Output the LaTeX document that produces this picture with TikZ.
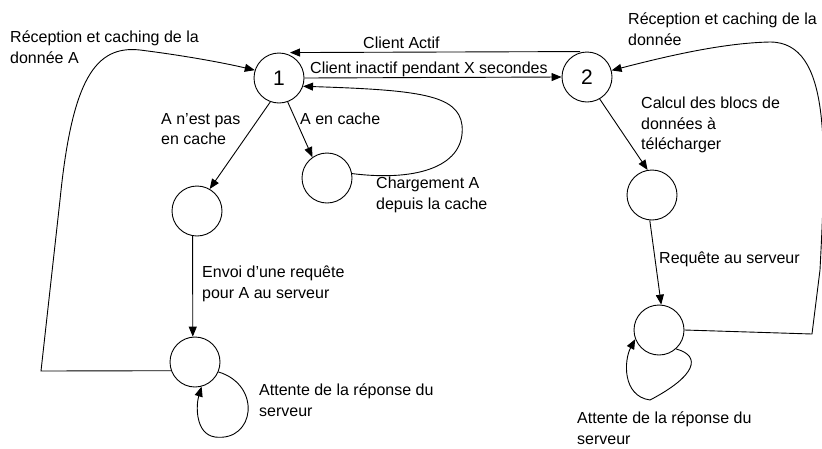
\documentclass[tikz,border=0pt]{standalone}
\usepackage{fontspec}
\setmainfont{Liberation Sans}
\usetikzlibrary{arrows.meta}
\begin{document}
\begin{tikzpicture}[x=1pt,y=-1pt,
  state/.style={circle,draw,line width=0.9pt,minimum size=50pt,inner sep=0pt,font=\fontsize{21}{25}\selectfont},
  arr/.style={draw,line width=0.9pt,-{Triangle[length=10pt,width=8pt]}},
  lbl/.style={anchor=north west,inner sep=0pt,align=left,font=\fontsize{16}{20.5}\selectfont}]
\useasboundingbox (0,0) rectangle (822,448);
% states
\node[state] (n1) at (279,78) {1};
\node[state] (n2) at (587,77) {2};
\node[state] (nc) at (197,211) {};
\node[state] (cl) at (327,178) {};
\node[state] (wl) at (195,362) {};
\node[state] (rm) at (652,195) {};
\node[state] (wr) at (659,330) {};
% edges
\draw[arr] ([xshift=-7pt]n2.north) -- ([xshift=11pt]n1.north);
\draw[arr] (n1.east) -- (n2.west);
\draw[arr] (n1.-110) -- (nc.60);
\draw[arr] (n1.-70) -- (cl.125);
\draw[arr] (cl.10) .. controls (420,182) and (466,165) .. (462,125)
  .. controls (458,95) and (420,90) .. (n1.-19);
\draw[arr] (nc.-100) -- (wl.95);
\draw[arr] (wl.200) -- (41,371) -- (60,200)
  .. controls (72,80) and (95,45) .. (140,50)
  .. controls (180,55) and (220,62) .. (n1.162);
\draw[arr] (wl.-23) .. controls (262,385) and (255,442) .. (215,437)
  .. controls (195,434) and (196,405) .. (wl.-75);
\draw[arr] (n2.-60) -- (rm.100);
\draw[arr] (rm.-95) -- (wr.85);
\draw[arr] (wr.0) -- (812,334) -- (820,270)
  .. controls (826,150) and (832,42) .. (770,42)
  .. controls (720,43) and (660,58) .. (n2.15);
\draw[arr] (wr.-48) .. controls (702,356) and (696,376) .. (650,400)
  .. controls (622,396) and (624,360) .. (wr.-159);
% labels
\node[lbl] (t1) at (10,31) {Réception et caching de la\\donnée A};
\node[lbl] (t2) at (363,37) {Client Actif};
\node[lbl] (t3) at (310,62) {Client inactif pendant X secondes};
\node[lbl] (t4) at (161,113) {A n'est pas\\en cache};
\node[lbl] (t5) at (300,113) {A en cache};
\node[lbl] (t6) at (376,177) {Chargement A\\depuis la cache};
\node[lbl] (t7) at (202,266) {Envoi d'une requête\\pour A au serveur};
\node[lbl] (t8) at (259,384) {Attente de la réponse du\\serveur};
\node[lbl] (t9) at (628,13) {Réception et caching de la\\donnée};
\node[lbl] (t10) at (641,97) {Calcul des blocs de\\données à\\télécharger};
\node[lbl] (t11) at (659,252) {Requête au serveur};
\node[lbl] (t12) at (577,412) {Attente de la réponse du\\serveur};
\end{tikzpicture}
\end{document}
